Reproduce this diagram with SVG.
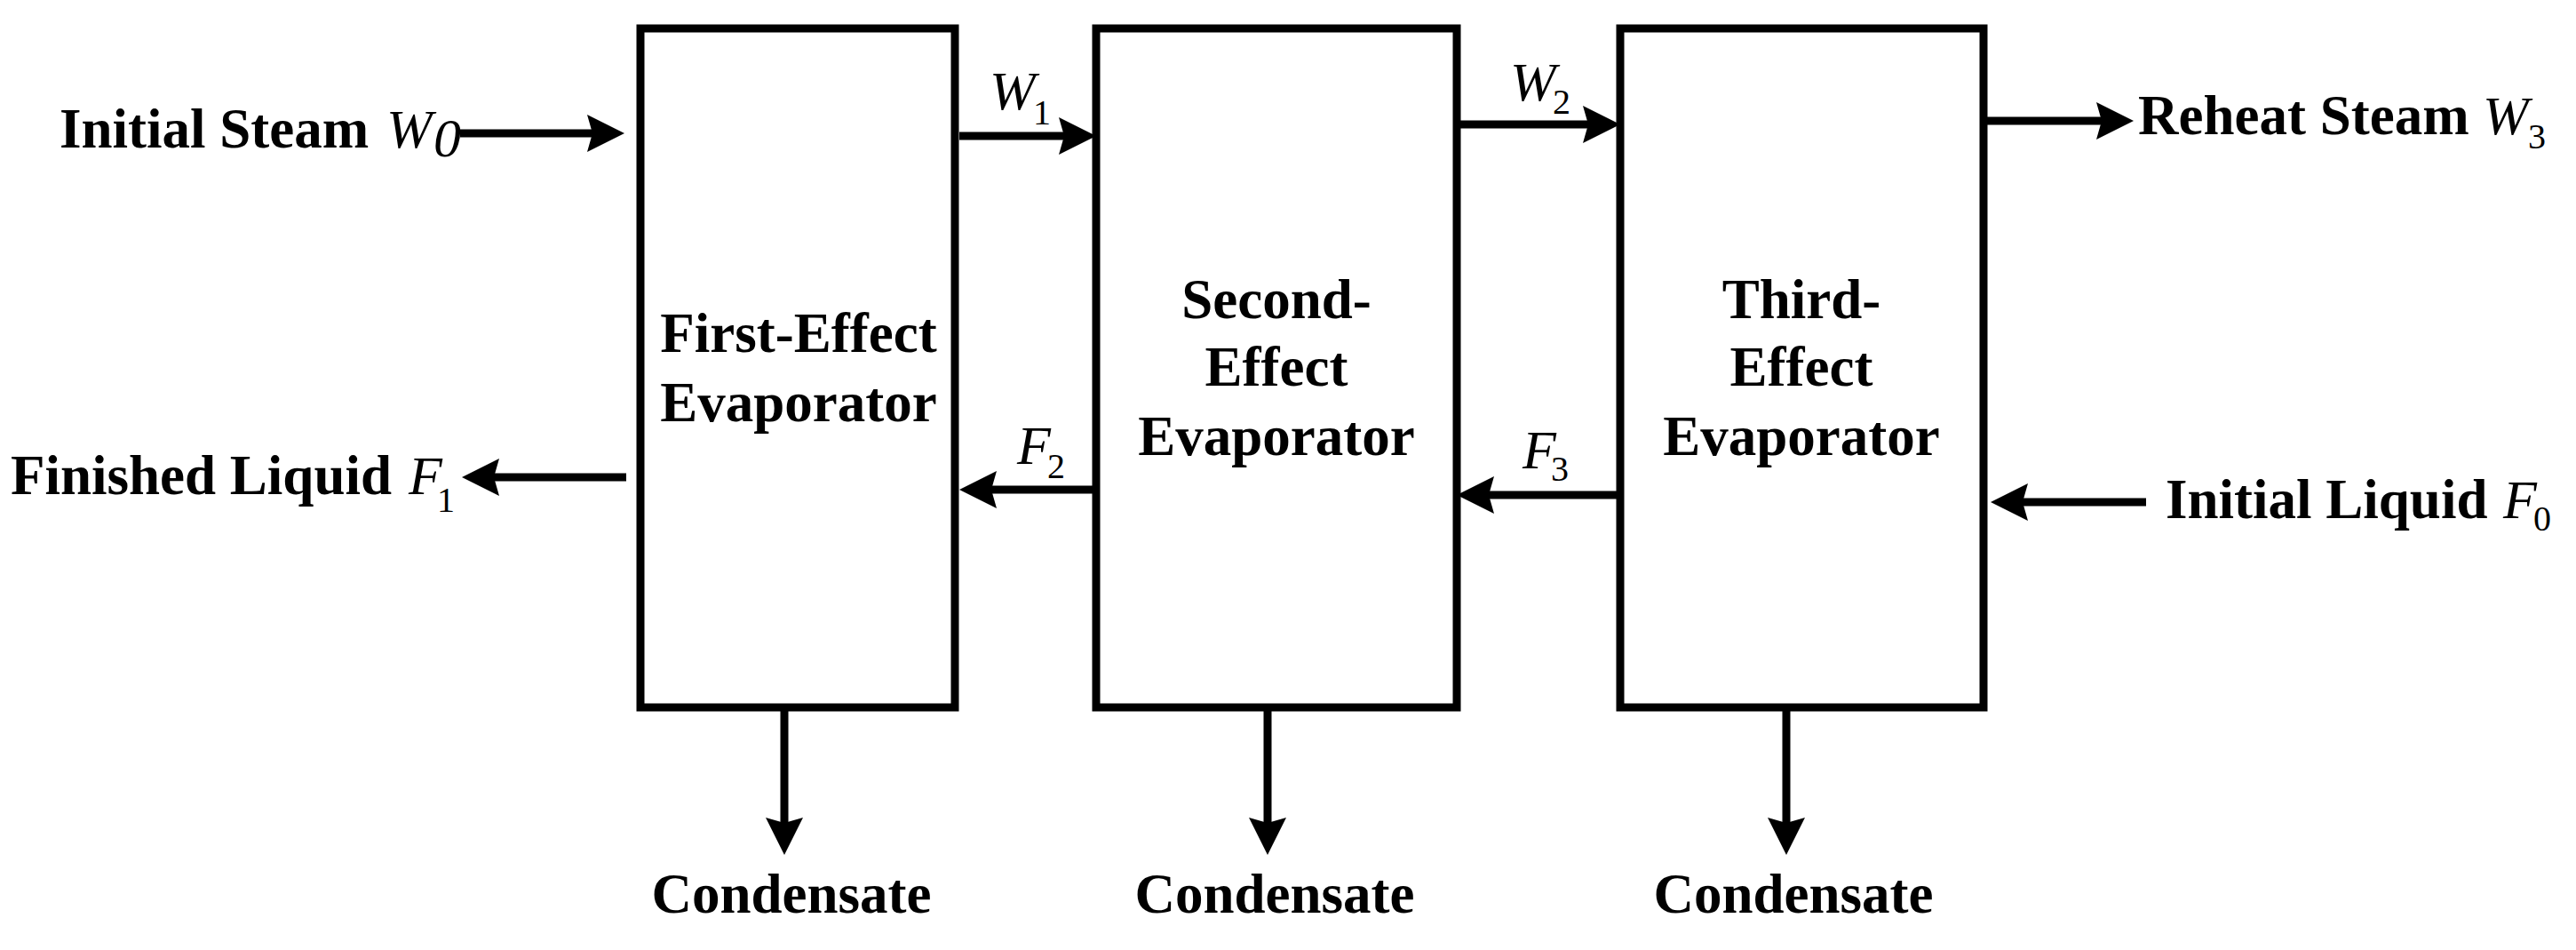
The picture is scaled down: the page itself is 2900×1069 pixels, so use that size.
<svg xmlns="http://www.w3.org/2000/svg" width="2900" height="1069" viewBox="0 0 2900 1069">
<style>
.box{fill:#fff;stroke:#000;stroke-width:9}
.ln{stroke:#000;stroke-width:9;fill:none;marker-end:url(#ah)}
.b{font-family:"Liberation Serif","Times New Roman",serif;font-weight:bold;font-size:63px;fill:#000}
.i{font-family:"Liberation Serif","Times New Roman",serif;font-style:italic;font-size:62px;fill:#000}
.s{font-family:"Liberation Serif","Times New Roman",serif;font-size:40px;fill:#000}
</style>
<defs>
<marker id="ah" markerUnits="userSpaceOnUse" markerWidth="44" markerHeight="44" refX="12" refY="21" orient="auto" viewBox="0 0 44 42">
<path d="M0,0 L42,21 L0,42 L6,21 Z" fill="#000"/>
</marker>
</defs>
<rect width="2900" height="1069" fill="#fff"/>
<g id="n1"><rect class="box" x="721" y="32" width="354" height="764"/>
<text class="b" text-anchor="middle" x="899" y="396">First-Effect</text>
<text class="b" text-anchor="middle" x="899" y="474">Evaporator</text></g>
<g id="n2"><rect class="box" x="1234" y="32" width="406" height="764"/>
<text class="b" text-anchor="middle" x="1437" y="358">Second-</text>
<text class="b" text-anchor="middle" x="1437" y="434">Effect</text>
<text class="b" text-anchor="middle" x="1437" y="512">Evaporator</text></g>
<g id="n3"><rect class="box" x="1824" y="32" width="409" height="764"/>
<text class="b" text-anchor="middle" x="2028" y="358">Third-</text>
<text class="b" text-anchor="middle" x="2028" y="434">Effect</text>
<text class="b" text-anchor="middle" x="2028" y="512">Evaporator</text></g>
<g id="connectors">
<line class="ln" x1="518" y1="150" x2="673" y2="150"/>
<line class="ln" x1="1080" y1="153" x2="1204" y2="153"/>
<line class="ln" x1="1640" y1="140" x2="1794" y2="140"/>
<line class="ln" x1="2233" y1="136" x2="2372" y2="136"/>
<line class="ln" x1="705" y1="537" x2="550" y2="537"/>
<line class="ln" x1="1234" y1="551" x2="1110" y2="551"/>
<line class="ln" x1="1824" y1="557" x2="1670" y2="557"/>
<line class="ln" x1="2416" y1="565" x2="2271" y2="565"/>
<line class="ln" x1="883" y1="796" x2="883" y2="932"/>
<line class="ln" x1="1427" y1="796" x2="1427" y2="932"/>
<line class="ln" x1="2011" y1="796" x2="2011" y2="932"/>
</g>
<g id="labels">
<text class="b" x="67" y="166">Initial Steam</text>
<text class="i" x="435" y="166">W</text><text class="i" font-size="42" x="488" y="176">0</text>
<text class="i" x="1114" y="123">W</text><text class="s" x="1163" y="140">1</text>
<text class="i" x="1700" y="113">W</text><text class="s" x="1748" y="128">2</text>
<text class="b" x="2407" y="151">Reheat Steam</text>
<text class="i" x="2795" y="151">W</text><text class="s" x="2846" y="167">3</text>
<text class="b" x="12" y="556">Finished Liquid</text>
<text class="i" x="460" y="556">F</text><text class="s" x="492" y="576">1</text>
<text class="i" x="1145" y="522">F</text><text class="s" x="1179" y="538">2</text>
<text class="i" x="1714" y="527">F</text><text class="s" x="1746" y="541">3</text>
<text class="b" x="2438" y="583">Initial Liquid</text>
<text class="i" x="2818" y="583">F</text><text class="s" x="2852" y="597">0</text>
<text class="b" text-anchor="middle" x="891" y="1027">Condensate</text>
<text class="b" text-anchor="middle" x="1435" y="1027">Condensate</text>
<text class="b" text-anchor="middle" x="2019" y="1027">Condensate</text>
</g>
</svg>
